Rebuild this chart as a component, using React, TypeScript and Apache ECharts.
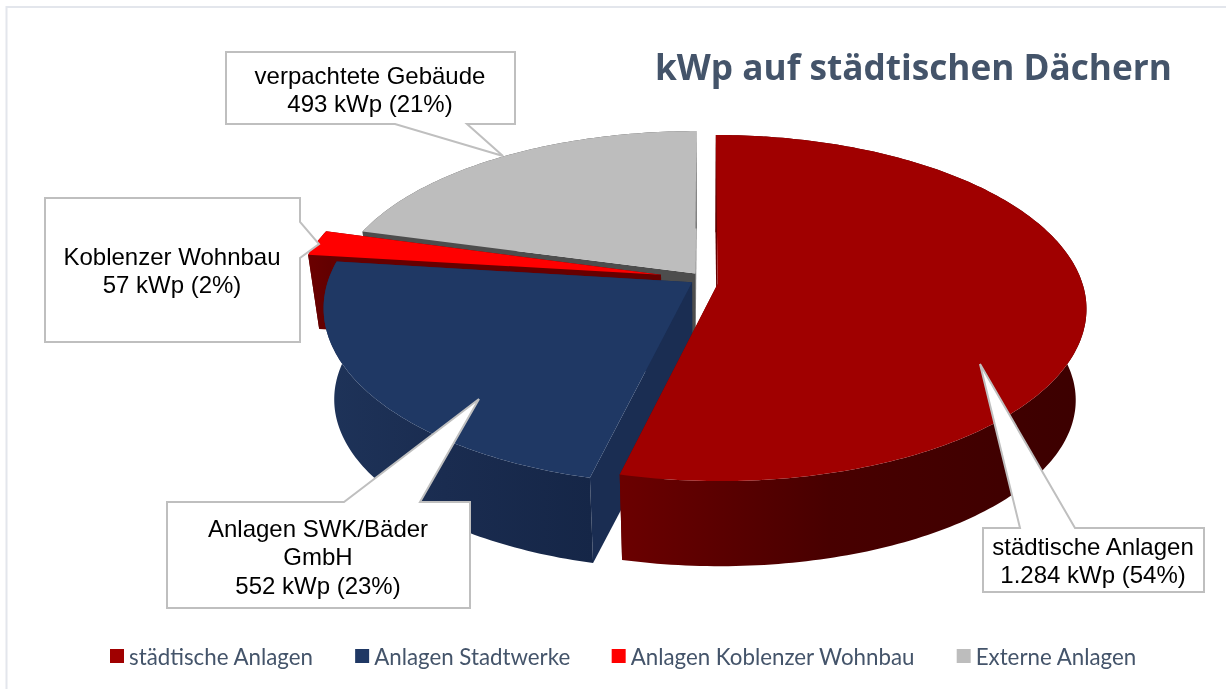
import React, { useEffect, useRef } from "react";
import * as echarts from "echarts";

const categories = ["städtische Anlagen", "Anlagen Stadtwerke", "Anlagen Koblenzer Wohnbau", "Externe Anlagen"];
const values = [1284, 552, 57, 493];
const topColors = ["#a00000", "#1f3864", "#ff0000", "#bdbdbd"];
const cutColors = ["#660000", "#1a2d52", "#660000", "#4d4d4d"];
const sideStops = [
  ["#6b0000", "#480000", "#3c0000"],
  ["#1e3359", "#1a2c50", "#152647"],
  ["#6b0000", "#660000", "#600000"],
  ["#4d4d4d", "#4d4d4d", "#4d4d4d"],
];
const explode = [
  [0.04, 0.0],
  [-0.03, -0.01],
  [-0.116, -0.055],
  [-0.021, -0.062],
];
const radiusX = [1, 1, 1, 0.99];
const radiusY = [1, 1.025, 1, 0.968];
const depthScale = [1, 1, 0.8, 1];
const drawOrder = [4, 3, 2, 1];

const CX = 703;
const CY = 284;
const RX = 365;
const KY = 169.7;
const P = 0.139;
const DEPTH = 92;
const SHRINK_X = 0.972;
const SHRINK_Y = 0.965;

const total = values.reduce((a, b) => a + b, 0);

function project(X: number, Y: number) {
  const s = 1 / (1 - P * Y);
  return [CX + X * RX * s, CY + Y * KY * s];
}
function lower(p: number[], i: number) {
  const y = CY + DEPTH + (p[1] - CY) * SHRINK_Y;
  return [CX + (p[0] - CX) * SHRINK_X, p[1] + (y - p[1]) * depthScale[i]];
}
function planePoint(deg: number, i: number) {
  const t = (deg * Math.PI) / 180;
  return project(radiusX[i] * Math.sin(t) + explode[i][0], -radiusY[i] * Math.cos(t) + explode[i][1]);
}
function sliceRange(i: number) {
  let a = 0;
  for (let k = 0; k < i; k++) a += values[k];
  return [(a / total) * 360, ((a + values[i]) / total) * 360];
}
function renderSlice(i: number) {
  return () => {
    const [a0, a1] = sliceRange(i);
    const arc: number[][] = [];
    const n = Math.max(4, Math.ceil(a1 - a0));
    for (let k = 0; k <= n; k++) arc.push(planePoint(a0 + ((a1 - a0) * k) / n, i));
    const apex = project(explode[i][0], explode[i][1]);
    const lowArc = arc.map((p) => lower(p, i));
    const lowApex = lower(apex, i);
    const first = arc[0];
    const last = arc[arc.length - 1];
    const stops = sideStops[i];
    const poly = (points: number[][], fill: any) => ({
      type: "polygon",
      shape: { points },
      style: { fill, stroke: "none" },
      silent: true,
    });
    return {
      type: "group",
      children: [
        poly([apex, last, lowArc[lowArc.length - 1], lowApex], cutColors[i]),
        poly([apex, first, lowArc[0], lowApex], cutColors[i]),
        poly(arc.concat(lowArc.slice().reverse()), {
          type: "linear",
          x: 0,
          y: 0,
          x2: 1,
          y2: 0,
          colorStops: [
            { offset: 0, color: stops[0] },
            { offset: 0.45, color: stops[1] },
            { offset: 1, color: stops[2] },
          ],
        }),
        poly([apex].concat(arc), topColors[i]),
      ],
    };
  };
}

const calloutStroke = "#bfbfbf";
const callouts = [
  {
    lines: "verpachtete Gebäude\n493 kWp (21%)",
    cx: 370,
    cy: 89.5,
    pts: [[226, 52], [515, 52], [515, 124], [467, 124], [503, 156], [395, 124], [226, 124]],
  },
  {
    lines: "Koblenzer Wohnbau\n57 kWp (2%)",
    cx: 172,
    cy: 270.5,
    pts: [[45, 198], [300, 198], [300, 222], [319, 244], [300, 258], [300, 342], [45, 342]],
  },
  {
    lines: "Anlagen SWK/Bäder\nGmbH\n552 kWp (23%)",
    cx: 318,
    cy: 556.5,
    pts: [[167, 502], [344, 502], [479, 399], [420, 502], [470, 502], [470, 608], [167, 608]],
  },
  {
    lines: "städtische Anlagen\n1.284 kWp (54%)",
    cx: 1093,
    cy: 560.5,
    pts: [[983, 528], [1020, 528], [980, 364], [1075, 528], [1204, 528], [1204, 592], [983, 592]],
  },
];

export default function App() {
  const ref = useRef<HTMLDivElement>(null);
  useEffect(() => {
    document.body.style.margin = "0";
    const chart = echarts.init(ref.current!, undefined, { renderer: "svg" });
    const graphics: any[] = [
      {
        type: "rect",
        z: 0,
        silent: true,
        shape: { x: 6.5, y: 7, width: 1230, height: 700 },
        style: { fill: "#ffffff", stroke: "#e3e6ec", lineWidth: 2 },
      },
    ];
    callouts.forEach((c) => {
      graphics.push({
        type: "polygon",
        z: 50,
        silent: true,
        shape: { points: c.pts },
        style: { fill: "#ffffff", stroke: calloutStroke, lineWidth: 2 },
      });
      graphics.push({
        type: "text",
        z: 51,
        silent: true,
        x: c.cx,
        y: c.cy,
        style: {
          text: c.lines,
          fill: "#000000",
          font: '24px "Liberation Sans"',
          lineHeight: 28.5,
          align: "center",
          verticalAlign: "middle",
        },
      });
    });
    chart.setOption({
      animation: false,
      color: topColors,
      title: {
        text: "kWp auf städtischen Dächern",
        left: 655,
        top: 48,
        padding: 0,
        textStyle: { color: "#44546a", fontFamily: "Open Sans", fontWeight: "bold", fontSize: 35.2 },
      },
      legend: {
        left: 110,
        top: 645,
        itemWidth: 14,
        itemHeight: 14,
        itemGap: 41.5,
        padding: 0,
        icon: "rect",
        data: categories,
        textStyle: { color: "#44546a", fontFamily: "Lato", fontSize: 22.3 },
      },
      graphic: graphics,
      series: categories.map((name, i) => ({
        type: "custom",
        name,
        coordinateSystem: "none",
        data: [[values[i]]],
        z: drawOrder[i] + 1,
        silent: true,
        clip: false,
        itemStyle: { color: topColors[i] },
        renderItem: renderSlice(i),
      })),
    });
    return () => chart.dispose();
  }, []);
  return <div ref={ref} style={{ position: "fixed", left: 0, top: 0, width: 1226, height: 689 }} />;
}
